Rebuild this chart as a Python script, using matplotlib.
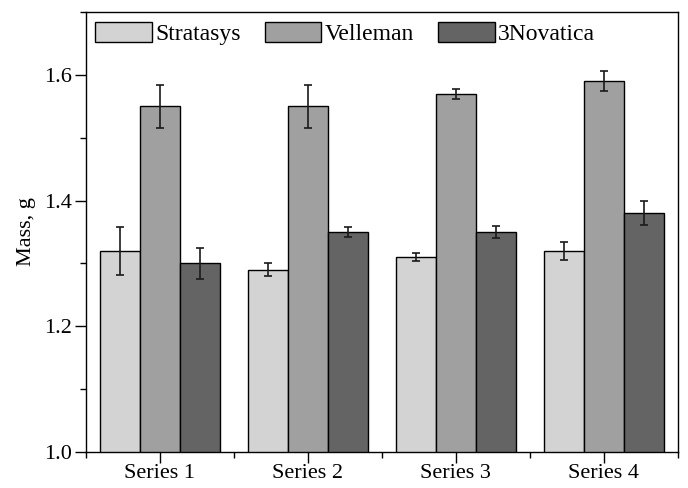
import numpy as np
import matplotlib
matplotlib.use("Agg")
import matplotlib.pyplot as plt
from matplotlib.ticker import MultipleLocator, FixedLocator

# data
series = ["Series 1", "Series 2", "Series 3", "Series 4"]
printers = ["Stratasys", "Velleman", "3Novatica"]
stratasys = [1.32, 1.29, 1.31, 1.32]
stratasys_err = [0.038, 0.010, 0.006, 0.014]
velleman = [1.55, 1.55, 1.57, 1.59]
velleman_err = [0.034, 0.034, 0.008, 0.016]
novatica = [1.30, 1.35, 1.35, 1.38]
novatica_err = [0.024, 0.008, 0.010, 0.019]

colors = ["#d3d3d3", "#a0a0a0", "#646464"]

plt.rcParams['font.family'] = ['Liberation Serif', 'DejaVu Serif']
plt.rcParams['font.size'] = 16

fig = plt.figure(figsize=(6.88, 4.88), dpi=100)
ax = fig.add_axes([0.125, 0.074, 0.86, 0.901])

x = np.arange(len(series))
w = 0.27
vals = [stratasys, velleman, novatica]
errs = [stratasys_err, velleman_err, novatica_err]
for i in range(3):
    ax.bar(x + (i - 1) * w, vals[i], w, yerr=errs[i], color=colors[i],
           edgecolor="black", linewidth=1.0, label=printers[i],
           error_kw=dict(ecolor="#1a1a1a", elinewidth=1.2, capsize=3, capthick=1.2))

ax.set_ylim(1.0, 1.7)
ax.set_xlim(-0.5, 3.5)
ax.set_xticks(x)
ax.set_xticklabels(series)
ax.xaxis.set_minor_locator(FixedLocator([-0.5, 0.5, 1.5, 2.5, 3.5]))
ax.yaxis.set_minor_locator(MultipleLocator(0.1))
ax.set_yticks([1.0, 1.2, 1.4, 1.6])
ax.set_yticklabels(["1.0", "1.2", "1.4", "1.6"])
ax.tick_params(which="major", direction="out", length=8, width=1, pad=2)
ax.tick_params(which="minor", direction="out", length=4, width=1)
ax.tick_params(axis="x", which="major", pad=1)
ax.set_ylabel("Mass, g", labelpad=6)
for s in ax.spines.values():
    s.set_linewidth(1.0)

ax.legend(loc="upper left", bbox_to_anchor=(0.0, 1.0), ncol=3, frameon=False,
          handlelength=2.4, handleheight=0.95, handletextpad=0.15,
          columnspacing=1.0, borderaxespad=0.2, borderpad=0.2, fontsize=17)

fig.savefig("out.png", dpi=100)
